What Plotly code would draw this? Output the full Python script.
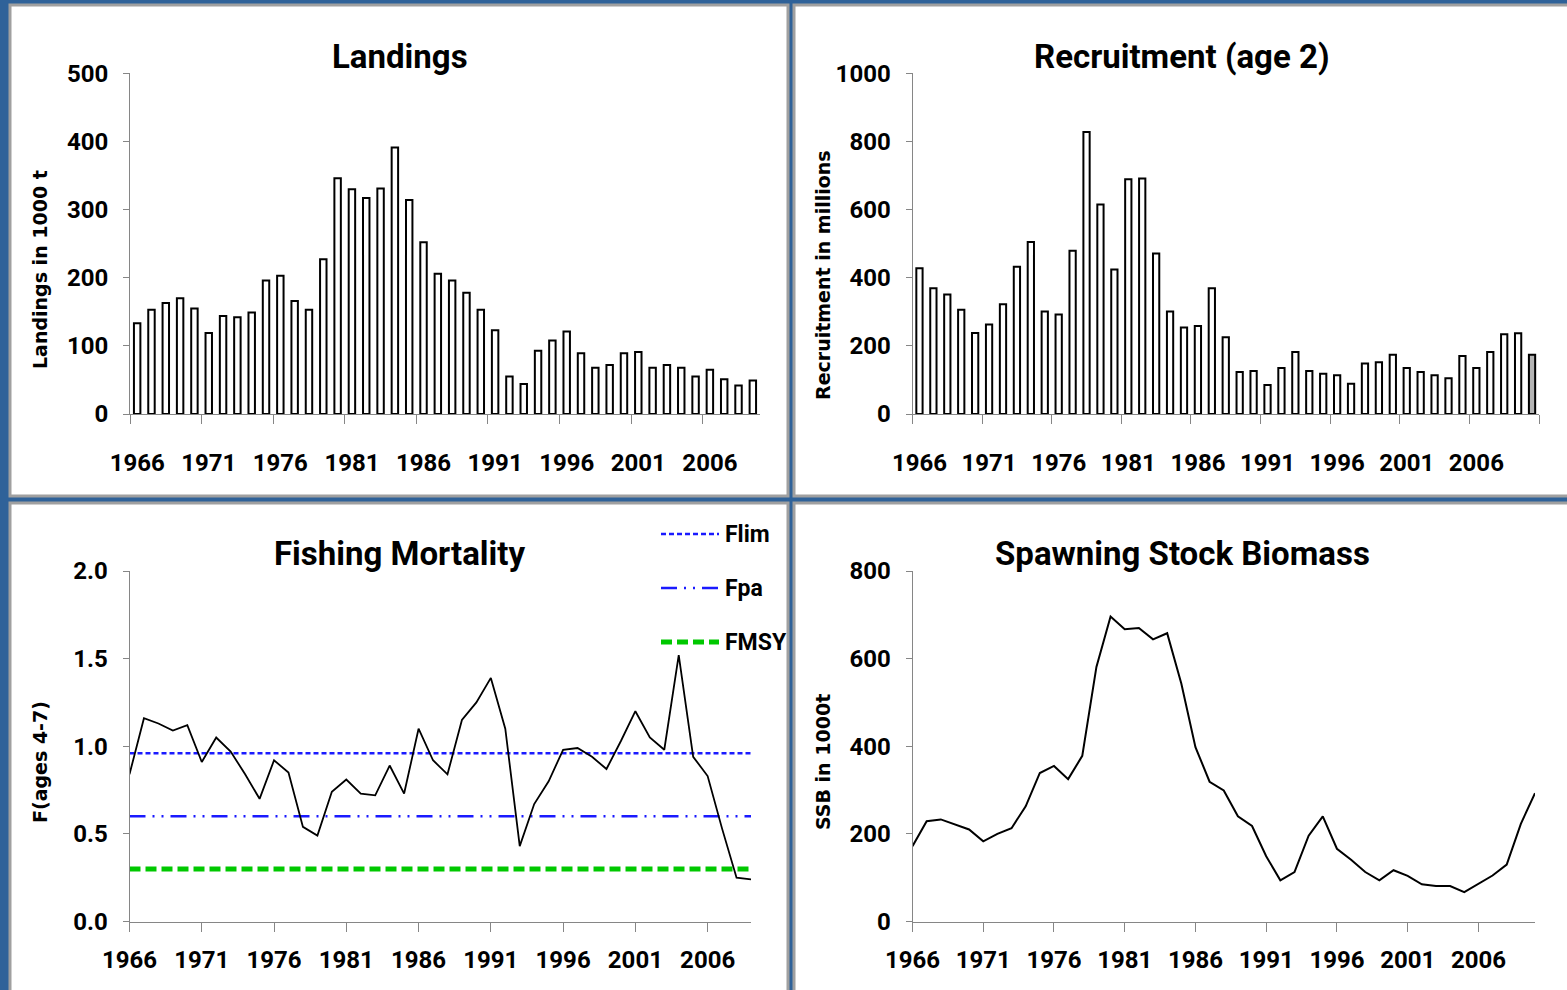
import plotly.graph_objects as go

W, H = 1567, 990

# ---------------- data ----------------
landing_years = list(range(1966, 2010))
landings = [133, 153, 163, 170, 155, 119, 144, 142, 149, 196,
            203, 166, 153, 227, 346, 330, 317, 331, 391, 314,
            252, 206, 196, 178, 153, 123, 55, 44, 93, 108,
            121, 89, 68, 72, 89, 91, 68, 72, 68, 55,
            65, 51, 42, 49]

recruit_years = list(range(1966, 2011))
recruitment = [428, 369, 351, 306, 238, 263, 322, 432, 505, 301,
               292, 479, 828, 615, 424, 689, 691, 471, 301, 254,
               258, 369, 225, 123, 126, 85, 135, 182, 126, 118,
               114, 89, 148, 152, 174, 135, 123, 114, 105, 170,
               135, 182, 234, 237, 174]
recruit_colors = ["white"] * (len(recruitment) - 1) + ["#b4b4b4"]

f_years = list(range(1966, 2010))
fishing_mortality = [0.84, 1.16, 1.13, 1.09, 1.12, 0.91, 1.05, 0.97, 0.84, 0.70,
                     0.92, 0.85, 0.54, 0.49, 0.74, 0.81, 0.73, 0.72, 0.89, 0.73,
                     1.10, 0.92, 0.84, 1.15, 1.25, 1.39, 1.10, 0.43, 0.67, 0.80,
                     0.98, 0.99, 0.94, 0.87, 1.03, 1.20, 1.05, 0.98, 1.52, 0.94,
                     0.83, 0.53, 0.25, 0.24]
ref_names = ["Flim", "Fpa", "FMSY"]
ref_values = [0.96, 0.60, 0.30]

ssb_years = list(range(1966, 2011))
ssb = [172, 229, 233, 222, 210, 183, 200, 213, 263, 339,
       355, 325, 378, 581, 696, 667, 670, 644, 658, 543,
       398, 319, 299, 240, 218, 149, 94, 113, 196, 240,
       166, 141, 113, 94, 117, 104, 85, 81, 81, 67,
       86, 105, 130, 223, 293]

label_years = list(range(1966, 2010, 5))

# ---------------- styles ----------------
MAIN_FONT = "Roboto, DejaVu Sans Condensed, sans-serif"
AXTITLE = "DejaVu Sans, Verdana, sans-serif"
BLUE_BG = "#2f6299"
AXIS_GREY = "#868686"
ref_styles = [
    dict(color="#1a1aff", width=2.5, dash="5px,3px"),
    dict(color="#1a1aff", width=2.5, dash="16px,7px,2px,7px,2px,7px"),
    dict(color="#00c800", width=5, dash="11px,5px"),
]


def px(x):
    return x / W


def py(y):
    return 1 - y / H


fig = go.Figure()

fig.add_trace(go.Bar(x=landing_years, y=landings, width=0.45,
                     marker=dict(color="white", line=dict(color="black", width=2)),
                     xaxis="x", yaxis="y", showlegend=False))
fig.add_trace(go.Bar(x=recruit_years, y=recruitment, width=0.45,
                     marker=dict(color=recruit_colors, line=dict(color="black", width=2)),
                     xaxis="x2", yaxis="y2", showlegend=False))
for name, val, st in zip(ref_names, ref_values, ref_styles):
    fig.add_trace(go.Scatter(x=[f_years[0], f_years[-1]], y=[val, val], mode="lines",
                             line=st, name=name, xaxis="x3", yaxis="y3", showlegend=False))
fig.add_trace(go.Scatter(x=f_years, y=fishing_mortality, mode="lines",
                         line=dict(color="black", width=1.8),
                         xaxis="x3", yaxis="y3", showlegend=False))
fig.add_trace(go.Scatter(x=ssb_years, y=ssb, mode="lines",
                         line=dict(color="black", width=2),
                         xaxis="x4", yaxis="y4", showlegend=False))

tickfont = dict(family=MAIN_FONT, size=24, color="black", weight="bold")

common_x = dict(showline=True, linecolor=AXIS_GREY, linewidth=1, showgrid=False,
                zeroline=False, tickfont=tickfont, fixedrange=True, automargin=False)
common_y = dict(showline=True, linecolor=AXIS_GREY, linewidth=1, showgrid=False,
                zeroline=False, tickfont=tickfont, ticks="outside", ticklen=6,
                tickcolor=AXIS_GREY, ticklabelstandoff=10, fixedrange=True, automargin=False)

top_dom = [py(414), py(73.3)]
bot_dom = [py(921.5), py(571)]

bar_minor_l = [y - 0.5 for y in label_years]
bar_minor_r = [y - 0.5 for y in label_years] + [recruit_years[-1] + 0.5]

fig.update_layout(
    width=W, height=H,
    margin=dict(l=0, r=0, t=0, b=0, pad=0, autoexpand=False),
    paper_bgcolor=BLUE_BG, plot_bgcolor="rgba(0,0,0,0)",
    showlegend=False,
    xaxis=dict(common_x, domain=[px(130), px(760)], anchor="y",
               range=[landing_years[0] - 0.5, landing_years[-1] + 0.5],
               tickmode="array", tickvals=label_years, ticks="", ticklabelstandoff=27,
               minor=dict(tickmode="array", tickvals=bar_minor_l, ticks="outside",
                          ticklen=9, tickcolor=AXIS_GREY)),
    yaxis=dict(common_y, domain=top_dom, anchor="x", range=[0, 500], dtick=100),
    xaxis2=dict(common_x, domain=[px(912.5), px(1539)], anchor="y2",
                range=[recruit_years[0] - 0.5, recruit_years[-1] + 0.5],
                tickmode="array", tickvals=label_years, ticks="", ticklabelstandoff=27,
                minor=dict(tickmode="array", tickvals=bar_minor_r, ticks="outside",
                           ticklen=9, tickcolor=AXIS_GREY)),
    yaxis2=dict(common_y, domain=top_dom, anchor="x2", range=[0, 1000], dtick=200),
    xaxis3=dict(common_x, domain=[px(129.5), px(751)], anchor="y3",
                range=[f_years[0], f_years[-1]],
                tickmode="array", tickvals=label_years, ticks="outside", ticklen=9,
                tickcolor=AXIS_GREY, ticklabelstandoff=8),
    yaxis3=dict(common_y, domain=bot_dom, anchor="x3", range=[0, 2.0], dtick=0.5,
                tickformat=".1f"),
    xaxis4=dict(common_x, domain=[px(912.5), px(1535)], anchor="y4",
                range=[ssb_years[0], ssb_years[-1]],
                tickmode="array", tickvals=label_years, ticks="outside", ticklen=9,
                tickcolor=AXIS_GREY, ticklabelstandoff=8),
    yaxis4=dict(common_y, domain=bot_dom, anchor="x4", range=[0, 800], dtick=200),
)

panels = [(10, 5, 788, 496), (794, 5, 1572, 496), (10, 503, 788, 995), (794, 503, 1572, 995)]
for x0, y0, x1, y1 in panels:
    fig.add_shape(type="rect", xref="paper", yref="paper",
                  x0=px(x0), x1=px(x1), y0=py(y1), y1=py(y0),
                  fillcolor="white", line=dict(color="#a0a0a0", width=3), layer="below")

titles = [("Landings", 400, 56), ("Recruitment (age 2)", 1182, 56),
          ("Fishing Mortality", 400, 553), ("Spawning Stock Biomass", 1182, 553)]
for txt, x, y in titles:
    fig.add_annotation(text=txt, x=px(x), y=py(y), xref="paper", yref="paper",
                       showarrow=False, xanchor="center", yanchor="middle",
                       font=dict(family=MAIN_FONT, size=33, color="black", weight="bold"))

ytitles = [("Landings in 1000 t", 40, 270), ("Recruitment in millions", 823, 275),
           ("F(ages 4-7)", 40, 762), ("SSB in 1000t", 823, 762)]
for txt, x, y in ytitles:
    fig.add_annotation(text=f"<b>{txt}</b>", x=px(x), y=py(y), xref="paper", yref="paper",
                       showarrow=False, xanchor="center", yanchor="middle", textangle=-90,
                       font=dict(family=AXTITLE, size=19, color="black"))

leg_y = [534, 588, 642]
for name, st, y in zip(ref_names, ref_styles, leg_y):
    fig.add_shape(type="line", xref="paper", yref="paper",
                  x0=px(661), x1=px(719), y0=py(y), y1=py(y), line=st)
    fig.add_annotation(text=name, x=px(723), y=py(y), xref="paper", yref="paper",
                       showarrow=False, xanchor="left", yanchor="middle",
                       font=dict(family=MAIN_FONT, size=23, color="black", weight="bold"))

fig.write_html("out.html", config=dict(displayModeBar=False),
               post_script="document.body.style.margin='0';")
